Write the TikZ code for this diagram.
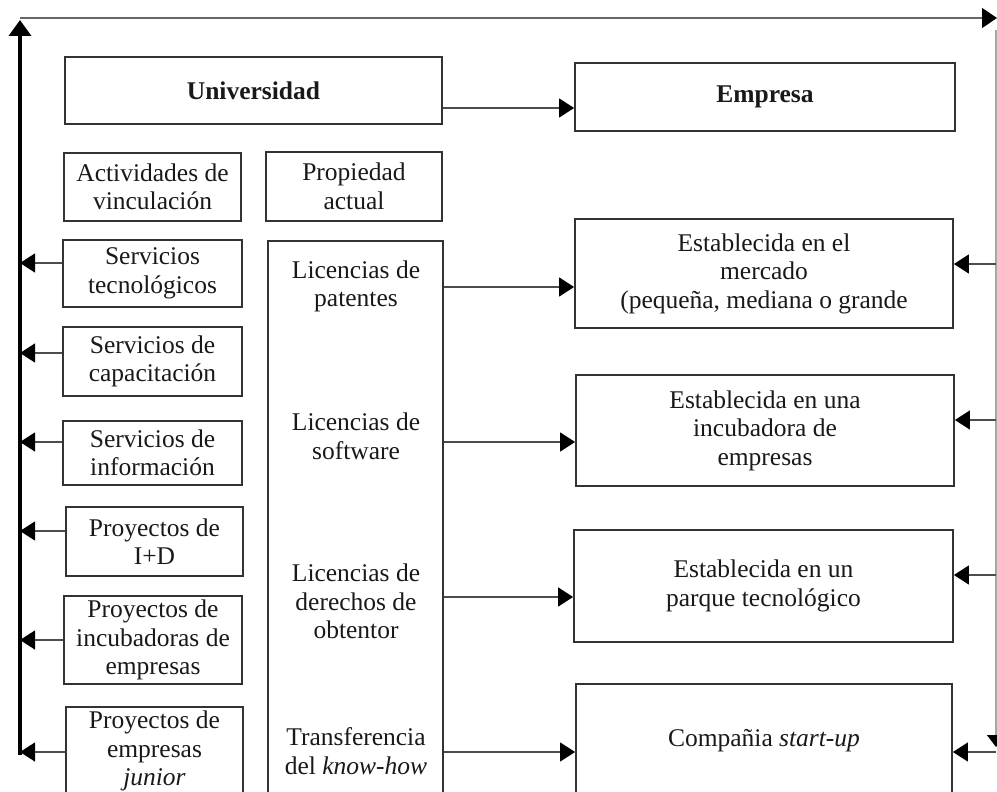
\documentclass[tikz,border=0pt]{standalone}
\usepackage{fontspec}
\setmainfont{Liberation Serif}
\usetikzlibrary{arrows.meta}
\begin{document}
\begin{tikzpicture}[x=1pt,y=-1pt,
  txt/.style={font=\fontsize{25.5}{28.5}\selectfont, text=black!90},
  box/.style={txt, draw=black!80, line width=1.8pt, rectangle, inner sep=0pt, align=center},
  lbl/.style={txt, inner sep=0pt, align=center},
  conn/.style={draw=black!70, line width=1.3pt, -{Triangle[length=15pt,width=19pt,color=black]}},
  spine/.style={draw=black, line width=3.5pt, -{Triangle[length=16pt,width=22pt,color=black]}},
  rail/.style={draw=black!35, line width=1.3pt}
]
\useasboundingbox (0,0) rectangle (997,792);
\clip (0,0) rectangle (997,792);

% --- top row ---
\node[box, minimum width=377pt, minimum height=67pt] (uni) at (253.5,90.5) {\bfseries Universidad};
\node[box, minimum width=380pt, minimum height=68pt] (emp) at (765,97) {\bfseries Empresa};

% --- university column headers ---
\node[box, minimum width=177pt, minimum height=68pt] (act) at (152.5,187) {Actividades de\\vinculación};
\node[box, minimum width=176pt, minimum height=69pt] (prop) at (354,186.5) {Propiedad\\actual};

% --- linkage activities ---
\node[box, minimum width=179pt, minimum height=67pt] (tec) at (152.5,273.5) {Servicios\\tecnológicos};
\node[box, minimum width=179pt, minimum height=69pt] (cap) at (152.5,361.5) {Servicios de\\capacitación};
\node[box, minimum width=179pt, minimum height=64pt] (inf) at (152.5,453) {Servicios de\\información};
\node[box, minimum width=177pt, minimum height=69pt] (imd) at (154.5,541.5) {Proyectos de\\I+D};
\node[box, minimum width=178pt, minimum height=88pt] (inc) at (153,640) {Proyectos de\\incubadoras de\\empresas};
\node[box, minimum width=177pt, minimum height=88pt] (jun) at (154.5,751) {Proyectos de\\empresas\\\textit{junior}};

% --- intellectual property column ---
\node[box, minimum width=175pt, minimum height=579pt] (lic) at (355.5,530.5) {};
\node[lbl] (pat) at (356,286.5) {Licencias de\\patentes};
\node[lbl] (sof) at (356,436.5) {Licencias de\\software};
\node[lbl] (obt) at (356,601.5) {Licencias de\\derechos de\\obtentor};
\node[lbl] (kh)  at (356,751) {Transferencia\\del \textit{know-how}};

% --- company types ---
\node[box, minimum width=378pt, minimum height=109pt] (mer) at (764,273.5) {Establecida en el\\mercado\\(pequeña, mediana o grande};
\node[box, minimum width=378pt, minimum height=111pt] (ince) at (765,430.5) {Establecida en una\\incubadora de\\empresas};
\node[box, minimum width=379pt, minimum height=112pt] (par) at (763.5,586) {Establecida en un\\parque tecnológico};
\node[box, minimum width=376pt, minimum height=114pt] (stu) at (764,741) {Compañia \textit{start-up}};

% --- frame coordinates ---
\coordinate (spT) at (20,20);
\coordinate (spB) at (20,755);
\coordinate (topL) at (20,18);
\coordinate (topR) at (997,18);
\coordinate (railT) at (996,30);
\coordinate (railB) at (996,747);

% arrow levels
\coordinate (l1) at (0,263);
\coordinate (l2) at (0,353);
\coordinate (l3) at (0,442);
\coordinate (l4) at (0,531);
\coordinate (l5) at (0,640);
\coordinate (l6) at (0,752);
\coordinate (m1) at (0,287);
\coordinate (m2) at (0,442);
\coordinate (m3) at (0,597);
\coordinate (m4) at (0,752);
\coordinate (r1) at (0,264);
\coordinate (r2) at (0,420);
\coordinate (r3) at (0,575);
\coordinate (r4) at (0,752);
\coordinate (u1) at (0,108);

% --- outer loop ---
\draw[draw=black!60, line width=1.4pt, -{Triangle[length=15pt,width=20pt,color=black]}] (topL) -- (topR);
\draw[rail, -{Triangle[length=12pt,width=18pt,color=black]}] (railT) -- (railB);
\draw[spine] (spB) -- (spT);

% --- university to company ---
\draw[conn] (uni.east |- u1) -- (emp.west |- u1);

% --- linkage activities into the spine ---
\draw[conn] (tec.west |- l1) -- (spT |- l1);
\draw[conn] (cap.west |- l2) -- (spT |- l2);
\draw[conn] (inf.west |- l3) -- (spT |- l3);
\draw[conn] (imd.west |- l4) -- (spT |- l4);
\draw[conn] (inc.west |- l5) -- (spT |- l5);
\draw[conn] (jun.west |- l6) -- (spT |- l6);

% --- licences to company types ---
\draw[conn] (lic.east |- m1) -- (mer.west |- m1);
\draw[conn] (lic.east |- m2) -- (ince.west |- m2);
\draw[conn] (lic.east |- m3) -- (par.west |- m3);
\draw[conn] (lic.east |- m4) -- (stu.west |- m4);

% --- right rail into company types ---
\draw[conn] (railT |- r1) -- (mer.east |- r1);
\draw[conn] (railT |- r2) -- (ince.east |- r2);
\draw[conn] (railT |- r3) -- (par.east |- r3);
\draw[conn] (railT |- r4) -- (stu.east |- r4);
\end{tikzpicture}
\end{document}
